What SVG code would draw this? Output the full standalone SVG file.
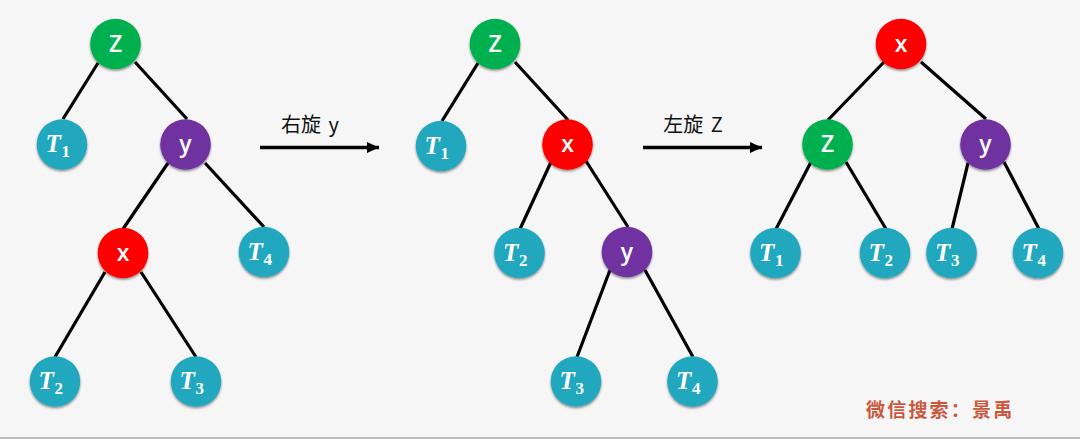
<svg xmlns="http://www.w3.org/2000/svg" width="1080" height="439" viewBox="0 0 1080 439">
<style>
.n{stroke:none;filter:url(#s)}
.g{fill:#00b050}.p{fill:#7030a0}.r{fill:#ff0000}.t{fill:#22a8be}
.l{font-family:"Open Sans","Liberation Sans",sans-serif;font-size:23px;font-weight:600;fill:#fff;text-anchor:middle}
.T{font-family:"Liberation Serif",serif;font-size:25px;font-weight:bold;font-style:italic;fill:#fff}
.S{font-family:"Liberation Serif",serif;font-size:17px;font-weight:bold;fill:#fff}
.c line{stroke:#000;stroke-width:3.200;stroke-linecap:butt}
.a{stroke:#000;stroke-width:3.500;marker-end:url(#h);fill:none}
.o{font-family:"Noto Sans CJK SC","Liberation Sans",sans-serif;font-size:20px;fill:#111;text-anchor:middle;word-spacing:3px}
.w{font-family:"Noto Sans CJK SC",sans-serif;font-size:19px;font-weight:700;fill:#c9583d;letter-spacing:2.200px}
</style>
<defs>
<filter id="s" x="-20%" y="-20%" width="140%" height="140%"><feDropShadow dx="0" dy="1.5" stdDeviation="1.3" flood-color="#000" flood-opacity=".45"/></filter>
<marker id="h" markerUnits="userSpaceOnUse" markerWidth="14" markerHeight="14" refX="12" refY="7" orient="auto"><path d="M0 1.500L12 7L0 12.500Z" fill="#000"/></marker>
</defs>
<rect width="1080" height="439" fill="#f6f6f6"/>
<rect y="437" width="1080" height="2" fill="#bdbdbd"/>
<g id="connectors" class="c">
<line x1="98" y1="63" x2="63" y2="119"/><line x1="135" y1="62" x2="187" y2="119"/>
<line x1="168" y1="163" x2="123" y2="229"/><line x1="205" y1="163" x2="264" y2="227"/>
<line x1="105" y1="272" x2="55" y2="357"/><line x1="141" y1="272" x2="196" y2="357"/>
<line x1="478" y1="63" x2="442" y2="121"/><line x1="515" y1="62" x2="568" y2="120"/>
<line x1="551" y1="162" x2="520" y2="229"/><line x1="586" y1="161" x2="628" y2="227"/>
<line x1="610" y1="270" x2="577" y2="357"/><line x1="645" y1="270" x2="693" y2="357"/>
<line x1="884" y1="62" x2="828" y2="120"/><line x1="921" y1="62" x2="986" y2="119"/>
<line x1="811" y1="162" x2="776" y2="229"/><line x1="846" y1="162" x2="886" y2="229"/>
<line x1="968" y1="163" x2="952" y2="229"/><line x1="1004" y1="162" x2="1039" y2="229"/>
<path class="a" d="M260 147.500H379"/><path class="a" d="M643 147.500H762"/>
</g>
<g id="a-z"><circle class="n g" cx="115.500" cy="44" r="25.300"/><text class="l" x="115.500" y="52">Z</text></g>
<g id="a-t1"><circle class="n t" cx="62" cy="144.500" r="25.300"/><text class="T" x="45.500" y="152">T</text><text class="S" x="61.500" y="157">1</text></g>
<g id="a-y"><circle class="n p" cx="185.500" cy="144.500" r="25.300"/><text class="l" x="185.500" y="152">y</text></g>
<g id="a-x"><circle class="n r" cx="123" cy="253" r="25.300"/><text class="l" x="123" y="261">x</text></g>
<g id="a-t4"><circle class="n t" cx="264" cy="252" r="25.300"/><text class="T" x="247.500" y="260">T</text><text class="S" x="263.500" y="265">4</text></g>
<g id="a-t2"><circle class="n t" cx="55" cy="381.500" r="25.300"/><text class="T" x="38.500" y="389">T</text><text class="S" x="54.500" y="394">2</text></g>
<g id="a-t3"><circle class="n t" cx="196" cy="381.500" r="25.300"/><text class="T" x="179.500" y="389">T</text><text class="S" x="195.500" y="394">3</text></g>
<g id="b-z"><circle class="n g" cx="495" cy="44" r="25.300"/><text class="l" x="495" y="52">Z</text></g>
<g id="b-t1"><circle class="n t" cx="441" cy="146" r="25.300"/><text class="T" x="424.500" y="154">T</text><text class="S" x="440.500" y="159">1</text></g>
<g id="b-x"><circle class="n r" cx="567.500" cy="144.500" r="25.300"/><text class="l" x="567.500" y="152">x</text></g>
<g id="b-t2"><circle class="n t" cx="519.500" cy="253" r="25.300"/><text class="T" x="503" y="261">T</text><text class="S" x="519" y="266">2</text></g>
<g id="b-y"><circle class="n p" cx="627" cy="252" r="25.300"/><text class="l" x="627" y="260">y</text></g>
<g id="b-t3"><circle class="n t" cx="576" cy="381.500" r="25.300"/><text class="T" x="559.500" y="389">T</text><text class="S" x="575.500" y="394">3</text></g>
<g id="b-t4"><circle class="n t" cx="692.500" cy="381.500" r="25.300"/><text class="T" x="676" y="389">T</text><text class="S" x="692" y="394">4</text></g>
<g id="c-x"><circle class="n r" cx="901" cy="44" r="25.300"/><text class="l" x="901" y="52">x</text></g>
<g id="c-z"><circle class="n g" cx="827.500" cy="144.500" r="25.300"/><text class="l" x="827.500" y="152">Z</text></g>
<g id="c-y"><circle class="n p" cx="985.500" cy="144.500" r="25.300"/><text class="l" x="985.500" y="152">y</text></g>
<g id="c-t1"><circle class="n t" cx="775.500" cy="253" r="25.300"/><text class="T" x="759" y="261">T</text><text class="S" x="775" y="266">1</text></g>
<g id="c-t2"><circle class="n t" cx="885" cy="253" r="25.300"/><text class="T" x="868.500" y="261">T</text><text class="S" x="884.500" y="266">2</text></g>
<g id="c-t3"><circle class="n t" cx="951.500" cy="253" r="25.300"/><text class="T" x="935" y="261">T</text><text class="S" x="951" y="266">3</text></g>
<g id="c-t4"><circle class="n t" cx="1038" cy="253" r="25.300"/><text class="T" x="1021.500" y="261">T</text><text class="S" x="1037.500" y="266">4</text></g>
<text class="o" x="310" y="132">右旋 y</text>
<text class="o" x="693" y="132">左旋 Z</text>
<text class="w" x="866" y="417">微信搜索：景禹</text>
</svg>
